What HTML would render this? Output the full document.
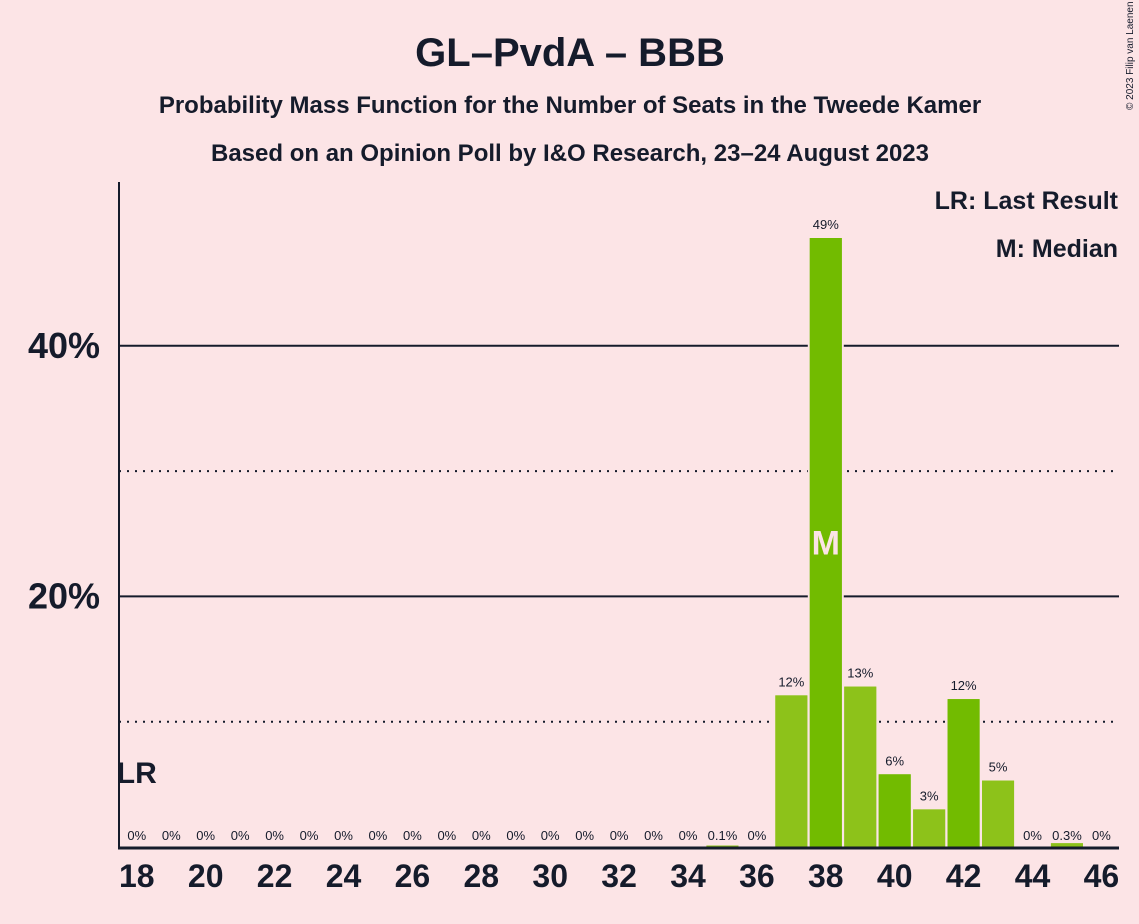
<!DOCTYPE html>
<html><head><meta charset="utf-8"><style>
body{margin:0;background:#fce4e6;}
svg{display:block;font-family:"Liberation Sans",sans-serif;}
</style></head><body>
<svg id="c" width="1139" height="924" viewBox="0 0 1139 924">
<rect width="1139" height="924" fill="#fce4e6"/>
<text x="570" y="66" text-anchor="middle" font-size="40" font-weight="bold" fill="#151b2b">GL–PvdA – BBB</text>
<text x="570" y="113" text-anchor="middle" font-size="24" font-weight="bold" fill="#151b2b">Probability Mass Function for the Number of Seats in the Tweede Kamer</text>
<text x="570" y="161" text-anchor="middle" font-size="24" font-weight="bold" fill="#151b2b">Based on an Opinion Poll by I&amp;O Research, 23–24 August 2023</text>
<text x="1133" y="110" font-size="10" fill="#151b2b" transform="rotate(-90 1133 110)">© 2023 Filip van Laenen</text>
<text x="1118" y="209" text-anchor="end" font-size="25" font-weight="bold" fill="#151b2b">LR: Last Result</text>
<text x="1118" y="257" text-anchor="end" font-size="25" font-weight="bold" fill="#151b2b">M: Median</text>
<g id="grid"></g>
<g id="bars"></g>
<g id="labels"></g>
<line x1="119" y1="182" x2="119" y2="848" stroke="#151b2b" stroke-width="2"/>
<line x1="118" y1="848" x2="1119" y2="848" stroke="#151b2b" stroke-width="3"/>
<g id="ticks"></g>
</svg>
<script>
const seats=[18,19,20,21,22,23,24,25,26,27,28,29,30,31,32,33,34,35,36,37,38,39,40,41,42,43,44,45,46];
const probs=[0,0,0,0,0,0,0,0,0,0,0,0,0,0,0,0,0,0.1,0,12.1,48.6,12.8,5.8,3.0,11.8,5.3,0,0.3,0];
const valueLabels=["0%","0%","0%","0%","0%","0%","0%","0%","0%","0%","0%","0%","0%","0%","0%","0%","0%","0.1%","0%","12%","49%","13%","6%","3%","12%","5%","0%","0.3%","0%"];
const yTicks=[20,40];
const yDotted=[10,30];
const lastResult=18, median=38;
const NS="http://www.w3.org/2000/svg";
const xs=s=>136.8+(s-18)*34.45;
const ys=v=>847-v*12.53;
function mk(t,a,p){const e=document.createElementNS(NS,t);for(const k in a)e.setAttribute(k,a[k]);p.appendChild(e);return e;}
const grid=document.getElementById('grid'),bars=document.getElementById('bars'),labels=document.getElementById('labels'),ticks=document.getElementById('ticks');
yTicks.forEach(v=>{const l=mk('line',{x1:119,x2:1119,y1:ys(v),y2:ys(v),stroke:'#151b2b','stroke-width':2},grid);


const t=mk('text',{x:100,y:ys(v)+12,'text-anchor':'end','font-size':36,'font-weight':'bold',fill:'#151b2b'},ticks);t.textContent=v+'%';

});
yDotted.forEach(v=>{const l=mk('line',{x1:119,x2:1119,y1:ys(v),y2:ys(v),stroke:'#151b2b','stroke-width':2,'stroke-dasharray':'2,6'},grid);

});
seats.forEach((s,i)=>{const v=probs[i];const x=xs(s);
if(v>0){const h=Math.max(v*12.53,1.5);
const r=mk('rect',{x:x-16,y:847-h,width:32,height:h,fill:(s%2)?'#8dc21a':'#72bb00',stroke:'#fce4e6','stroke-width':v>1?4:0,'paint-order':'stroke'},bars);


const r2=mk('rect',{x:x-16,y:847-h,width:32,height:h,fill:(s%2)?'#8dc21a':'#72bb00'},bars);

}
const t=mk('text',{x:x,y:ys(v)-9,'text-anchor':'middle','font-size':13,fill:'#151b2b'},labels);
if(v<1)t.setAttribute('y',840);
t.textContent=valueLabels[i];


if(s%2===0){const tk=mk('text',{x:x,y:887,'text-anchor':'middle','font-size':32,'font-weight':'bold',fill:'#151b2b'},ticks);tk.textContent=s;

}
if(s===median){const m=mk('text',{x:x,y:ys(v/2)+12,'text-anchor':'middle','font-size':34,'font-weight':'bold',fill:'#fce4e6'},labels);m.textContent='M';

}
if(s===lastResult){const lr=mk('text',{x:x,y:783,'text-anchor':'middle','font-size':30,'font-weight':'bold',fill:'#151b2b'},labels);lr.textContent='LR';

}
});
</script>
</body></html>
